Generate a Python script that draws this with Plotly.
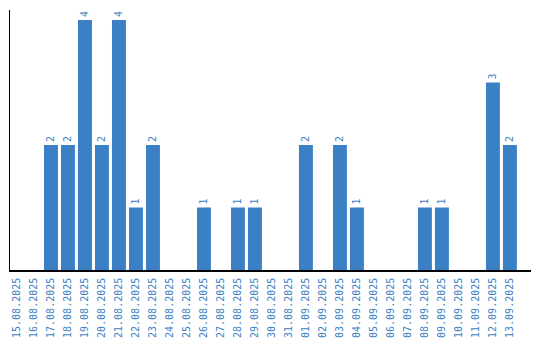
import plotly.graph_objects as go

dates = ["15.08.2025", "16.08.2025", "17.08.2025", "18.08.2025", "19.08.2025",
         "20.08.2025", "21.08.2025", "22.08.2025", "23.08.2025", "24.08.2025",
         "25.08.2025", "26.08.2025", "27.08.2025", "28.08.2025", "29.08.2025",
         "30.08.2025", "31.08.2025", "01.09.2025", "02.09.2025", "03.09.2025",
         "04.09.2025", "05.09.2025", "06.09.2025", "07.09.2025", "08.09.2025",
         "09.09.2025", "10.09.2025", "11.09.2025", "12.09.2025", "13.09.2025"]
counts = [0, 0, 2, 2, 4, 2, 4, 1, 2, 0,
          0, 1, 0, 1, 1, 0, 0, 2, 0, 2,
          1, 0, 0, 0, 1, 1, 0, 0, 3, 2]

color = "#3b7fc4"
labels = [str(v) if v > 0 else "" for v in counts]

fig = go.Figure(go.Bar(
    x=list(range(len(dates))), y=counts, text=labels,
    textposition="outside", textangle=-90,
    textfont=dict(family="DejaVu Sans Mono", size=10, color=color),
    marker=dict(color=color, line=dict(width=0)),
    cliponaxis=False,
))

fig.update_layout(
    width=540, height=340,
    margin=dict(l=10, r=9, t=10, b=70, autoexpand=False),
    paper_bgcolor="white", plot_bgcolor="white",
    bargap=0.18, showlegend=False,
    xaxis=dict(
        tickmode="array", tickvals=list(range(len(dates))), ticktext=dates,
        tickangle=-90, range=[-0.41, 30.24], automargin=False,
        tickfont=dict(family="DejaVu Sans Mono", size=10, color=color),
        showline=True, linecolor="black", linewidth=1.5,
        showgrid=False, zeroline=False, ticks="", ticklabelstandoff=2,
    ),
    yaxis=dict(
        range=[0, 4.16], showticklabels=False, automargin=False,
        showline=True, linecolor="black", linewidth=1,
        showgrid=False, zeroline=False, ticks="",
    ),
)

fig.write_html("out.html")
